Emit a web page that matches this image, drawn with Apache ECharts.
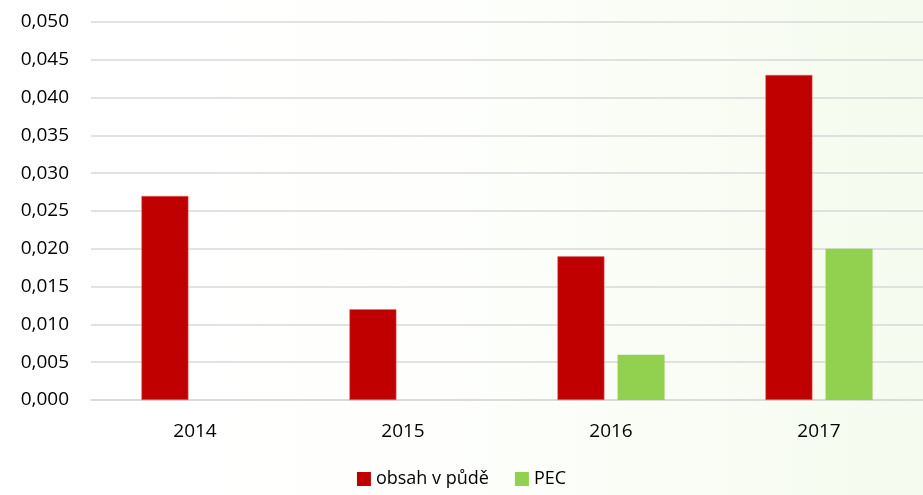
<!DOCTYPE html>
<html lang="cs">
<head>
    <meta charset="UTF-8">
    <title>obsah v půdě / PEC</title>
    <script type="text/javascript" src="https://cdn.jsdelivr.net/npm/echarts@6/dist/echarts.min.js"></script>
    <style>
        html, body { margin: 0; padding: 0; }
    </style>
</head>
<body>
<div id="main" style="width: 923px;height:495px;"></div>
<script type="text/javascript">
    // data
    var years = ['2014', '2015', '2016', '2017'];
    var obsahVPude = [0.027, 0.012, 0.019, 0.043];
    var pec = [null, null, 0.006, 0.020];
    var seriesNames = ['obsah v půdě', 'PEC'];

    var myChart = echarts.init(document.getElementById('main'));
    var font = '"Open Sans", "Liberation Sans", sans-serif';

    var option = {
        backgroundColor: new echarts.graphic.LinearGradient(0, 0, 1, 0, [
            {offset: 0, color: '#ffffff'},
            {offset: 0.45, color: '#fefffd'},
            {offset: 1, color: '#f5fbee'}
        ]),
        animation: false,
        grid: {left: 91, right: -5, top: 22, bottom: 95},
        legend: {
            data: seriesNames,
            bottom: 2,
            left: 'center',
            itemWidth: 14,
            itemHeight: 14,
            itemGap: 26,
            icon: 'rect',
            itemStyle: {borderWidth: 0},
            textStyle: {fontFamily: font, fontSize: 18, color: '#000'}
        },
        xAxis: {
            type: 'category',
            data: years,
            axisTick: {show: false},
            axisLine: {lineStyle: {color: '#d9d9d9', width: 1.5}},
            axisLabel: {fontFamily: font, fontSize: 19, color: '#000', margin: 22}
        },
        yAxis: {
            type: 'value',
            min: 0,
            max: 0.05,
            interval: 0.005,
            axisLine: {show: false},
            axisTick: {show: false},
            splitLine: {lineStyle: {color: '#d9d9d9', width: 1.5}},
            axisLabel: {
                fontFamily: font, fontSize: 19, color: '#000', margin: 22,
                formatter: function (v) { return v.toFixed(3).replace('.', ','); }
            }
        },
        series: [{
            name: seriesNames[0],
            type: 'bar',
            data: obsahVPude,
            barWidth: 47,
            barGap: '28%',
            itemStyle: {color: '#c00000', borderColor: '#e07070', borderWidth: 0.5}
        }, {
            name: seriesNames[1],
            type: 'bar',
            data: pec,
            barWidth: 47,
            itemStyle: {color: '#92d050'}
        }]
    };
    myChart.setOption(option);
</script>
</body>
</html>
